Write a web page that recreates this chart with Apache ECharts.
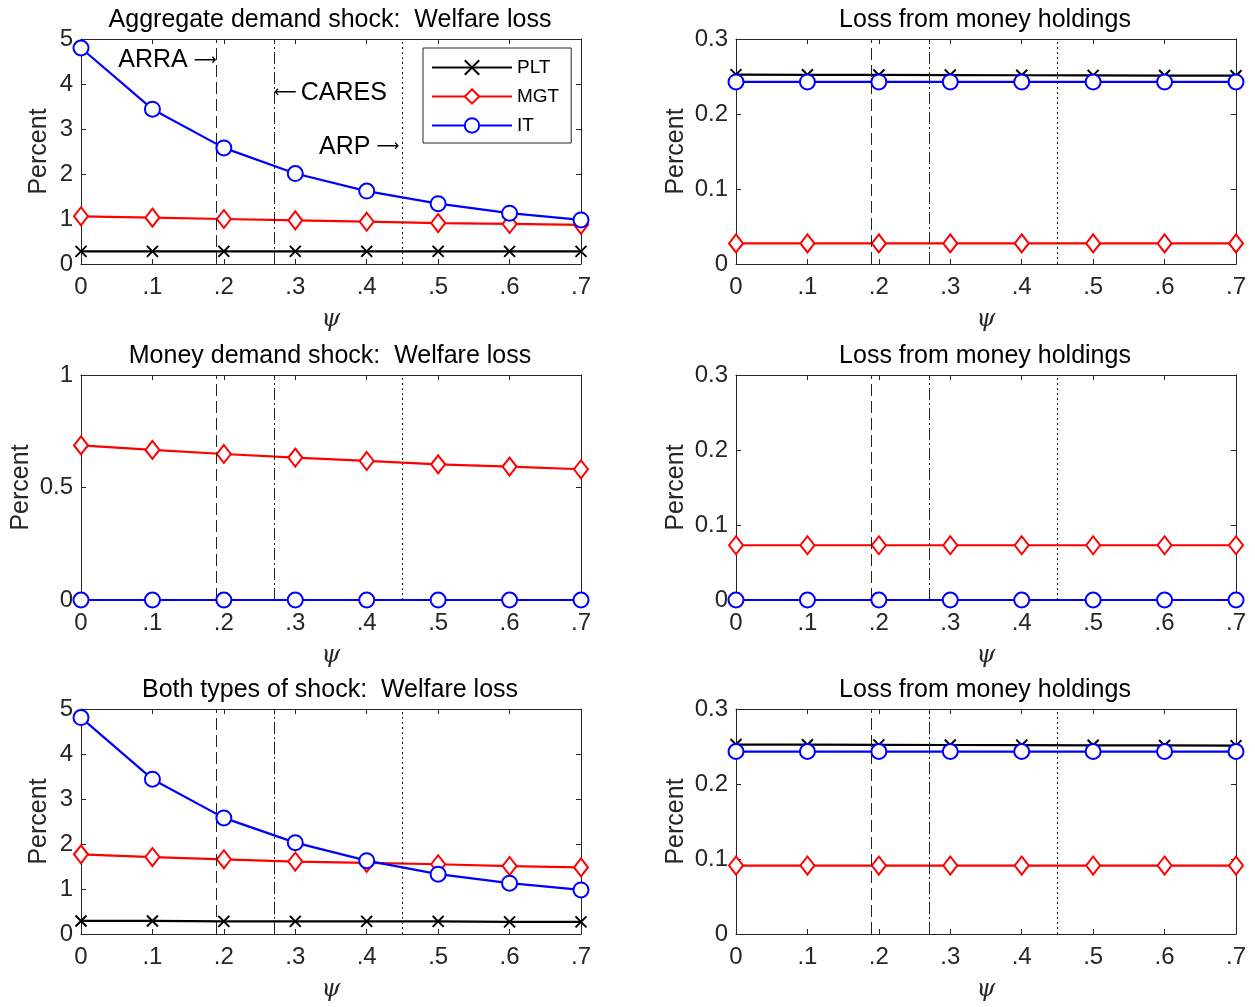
<!DOCTYPE html>
<html><head><meta charset="utf-8">
<script src="https://cdn.jsdelivr.net/npm/echarts@6/dist/echarts.min.js"></script>
<style>html,body{margin:0;padding:0;background:#fff}#c{width:1255px;height:1007px}</style>
</head><body><div id="c"></div>
<script>
// ---- data ----
const psi = [0, 0.1, 0.2, 0.3, 0.4, 0.5, 0.6, 0.7];
const seriesNames = ['PLT', 'MGT', 'IT'];
const titles = ['Aggregate demand shock:  Welfare loss', 'Loss from money holdings',
                'Money demand shock:  Welfare loss', 'Loss from money holdings',
                'Both types of shock:  Welfare loss', 'Loss from money holdings'];
// Aggregate demand shock: welfare loss
const adPLT = [0.28, 0.28, 0.28, 0.28, 0.28, 0.28, 0.28, 0.28];
const adMGT = [1.06, 1.03, 1.00, 0.97, 0.94, 0.91, 0.89, 0.87];
const adIT  = [4.80, 3.44, 2.58, 2.01, 1.62, 1.34, 1.13, 0.98];
// Aggregate demand shock: loss from money holdings
const adMoneyPLT = [0.2525, 0.2523, 0.2521, 0.2519, 0.2517, 0.2515, 0.2513, 0.2511];
const adMoneyMGT = [0.0275, 0.0275, 0.0275, 0.0275, 0.0275, 0.0275, 0.0275, 0.0275];
const adMoneyIT  = [0.2428, 0.2428, 0.2428, 0.2428, 0.2428, 0.2428, 0.2428, 0.2428];
// Money demand shock: welfare loss
const mdPLT = [0, 0, 0, 0, 0, 0, 0, 0];
const mdMGT = [0.687, 0.667, 0.649, 0.633, 0.618, 0.603, 0.593, 0.581];
const mdIT  = [0, 0, 0, 0, 0, 0, 0, 0];
// Money demand shock: loss from money holdings
const mdMoneyPLT = [0, 0, 0, 0, 0, 0, 0, 0];
const mdMoneyMGT = [0.073, 0.073, 0.073, 0.073, 0.073, 0.073, 0.073, 0.073];
const mdMoneyIT  = [0, 0, 0, 0, 0, 0, 0, 0];
// Both shocks: welfare loss
const bPLT = [0.29, 0.29, 0.28, 0.28, 0.28, 0.28, 0.27, 0.27];
const bMGT = [1.77, 1.71, 1.66, 1.61, 1.58, 1.55, 1.51, 1.48];
const bIT  = [4.81, 3.44, 2.58, 2.03, 1.63, 1.33, 1.13, 0.98];
// Both shocks: loss from money holdings
const bMoneyPLT = [0.2526, 0.2524, 0.2522, 0.2520, 0.2518, 0.2516, 0.2514, 0.2512];
const bMoneyMGT = [0.0913, 0.0913, 0.0913, 0.0913, 0.0913, 0.0913, 0.0913, 0.0913];
const bMoneyIT  = [0.2433, 0.2433, 0.2433, 0.2433, 0.2433, 0.2433, 0.2433, 0.2433];
// policy dates (vertical lines) and annotation heights
const policyNames = ['ARRA', 'CARES', 'ARP'];
const policyPsi = [0.19, 0.27, 0.45];
const policyLabelY = [4.52, 3.8, 2.6];
// y-axis ranges
const yMax = [5, 0.3, 1, 0.3, 5, 0.3];
const yInterval = [1, 0.1, 0.5, 0.1, 1, 0.1];

const panels = [
  [adPLT, adMGT, adIT], [adMoneyPLT, adMoneyMGT, adMoneyIT],
  [mdPLT, mdMGT, mdIT], [mdMoneyPLT, mdMoneyMGT, mdMoneyIT],
  [bPLT, bMGT, bIT], [bMoneyPLT, bMoneyMGT, bMoneyIT]
];

// ---- styling ----
const FONT = '"Liberation Sans", Arial, sans-serif';
const AX = '#262626';
const colors = ['#000000', '#ff0000', '#0000ff'];
const xPath = 'path://M0,0L10,10M10,0L0,10';
const symbols = [xPath, 'emptyDiamond', 'emptyCircle'];
const symbolSizes = [11, [14, 18], 15];
const policyDash = [[12, 5], [12, 3, 2, 3], [2, 3]];
const gridLeft = [81, 736];
const gridTop = [39, 375, 709];
const gridW = 500, gridH = 225;
const yNameGap = [29, 47, 47, 47, 29, 47];

const grids = [], xAxes = [], yAxes = [], series = [], titleList = [];
panels.forEach((p, i) => {
  const row = Math.floor(i / 2), col = i % 2;
  grids.push({left: gridLeft[col], top: gridTop[row], width: gridW, height: gridH, containLabel: false});
  titleList.push({text: titles[i], left: gridLeft[col] + gridW / 2 - 6, top: gridTop[row] - 36, textAlign: 'center',
    textStyle: {fontFamily: FONT, fontSize: 25, fontWeight: 'normal', color: '#000'}});
  const xa = {
    gridIndex: i, type: 'value', min: 0, max: 0.7, interval: 0.1,
    axisLine: {show: true, onZero: false, lineStyle: {color: AX, width: 1}},
    axisTick: {show: true, inside: true, length: 5, lineStyle: {color: AX}},
    splitLine: {show: false}
  };
  xAxes.push(Object.assign({}, xa, {
    position: 'bottom', name: 'ψ', nameLocation: 'middle', nameGap: 44,
    nameTextStyle: {fontFamily: '"DejaVu Serif", serif', fontStyle: 'italic', fontSize: 24, color: AX},
    axisLabel: {fontFamily: FONT, fontSize: 24, color: AX, margin: 11,
      formatter: v => v === 0 ? '0' : '.' + Math.round(v * 10)}
  }));
  xAxes.push(Object.assign({}, xa, {position: 'top', axisLabel: {show: false}}));
  const ya = {
    gridIndex: i, type: 'value', min: 0, max: yMax[i], interval: yInterval[i],
    axisLine: {show: true, onZero: false, lineStyle: {color: AX, width: 1}},
    axisTick: {show: true, inside: true, length: 5, lineStyle: {color: AX}},
    splitLine: {show: false}
  };
  yAxes.push(Object.assign({}, ya, {
    position: 'left', name: 'Percent', nameLocation: 'middle', nameGap: yNameGap[i], nameRotate: 90,
    nameTextStyle: {fontFamily: FONT, fontSize: 25, color: AX},
    axisLabel: {fontFamily: FONT, fontSize: 24, color: AX, margin: 8,
      formatter: v => String(Math.round(v * 10) / 10)}
  }));
  yAxes.push(Object.assign({}, ya, {position: 'right', axisLabel: {show: false}}));

  p.forEach((vals, k) => {
    const s = {
      name: seriesNames[k], type: 'line', xAxisIndex: 2 * i, yAxisIndex: 2 * i,
      data: psi.map((x, j) => [x, vals[j]]),
      symbol: symbols[k], symbolSize: symbolSizes[k], showAllSymbol: true, clip: false,
      lineStyle: {color: colors[k], width: 2.2},
      itemStyle: {color: colors[k], borderColor: colors[k], borderWidth: 2},
      z: 3 + k, animation: false
    };
    if (k === 0) {
      s.markLine = {
        silent: true, symbol: 'none', animation: false, label: {show: false},
        data: policyPsi.map((v, m) => ({xAxis: v, lineStyle: {color: '#222', width: 1, type: policyDash[m]}}))
      };
      if (i === 0) {
        const rich = {
          t: {fontFamily: FONT, fontSize: 25, color: '#000'},
          r: {fontFamily: '"DejaVu Sans", sans-serif', fontSize: 16, color: '#000', padding: [0, 0, 0, 6]},
          l: {fontFamily: '"DejaVu Sans", sans-serif', fontSize: 16, color: '#000', padding: [0, 4, 0, 0]}
        };
        s.markPoint = {
          silent: true, symbol: 'circle', symbolSize: 0, animation: false,
          data: [
            {coord: [policyPsi[0], policyLabelY[0]], label: {show: true, position: 'left', distance: 0, rich: rich,
              formatter: '{t|' + policyNames[0] + '}{r|\u27F6}'}},
            {coord: [policyPsi[1], policyLabelY[1]], label: {show: true, position: 'right', distance: 0, rich: rich,
              formatter: '{l|\u27F5}{t|' + policyNames[1] + '}'}},
            {coord: [policyPsi[2], policyLabelY[2]], label: {show: true, position: 'left', distance: 3, rich: rich,
              formatter: '{t|' + policyNames[2] + '}{r|\u27F6}'}}
          ]
        };
      }
    }
    series.push(s);
  });
});

const chart = echarts.init(document.getElementById('c'), null, {renderer: 'canvas'});
chart.setOption({
  animation: false,
  backgroundColor: '#fff',
  title: titleList,
  grid: grids,
  xAxis: xAxes,
  yAxis: yAxes,
  legend: {
    data: seriesNames, orient: 'vertical', left: 423, top: 48,
    padding: [10, 12, 8, 8], itemGap: 10,
    itemWidth: 80, itemHeight: 18,
    borderColor: AX, borderWidth: 1, backgroundColor: '#fff',
    textStyle: {fontFamily: FONT, fontSize: 19, color: '#000'},
    selectedMode: false
  },
  series: series
});
</script></body></html>
